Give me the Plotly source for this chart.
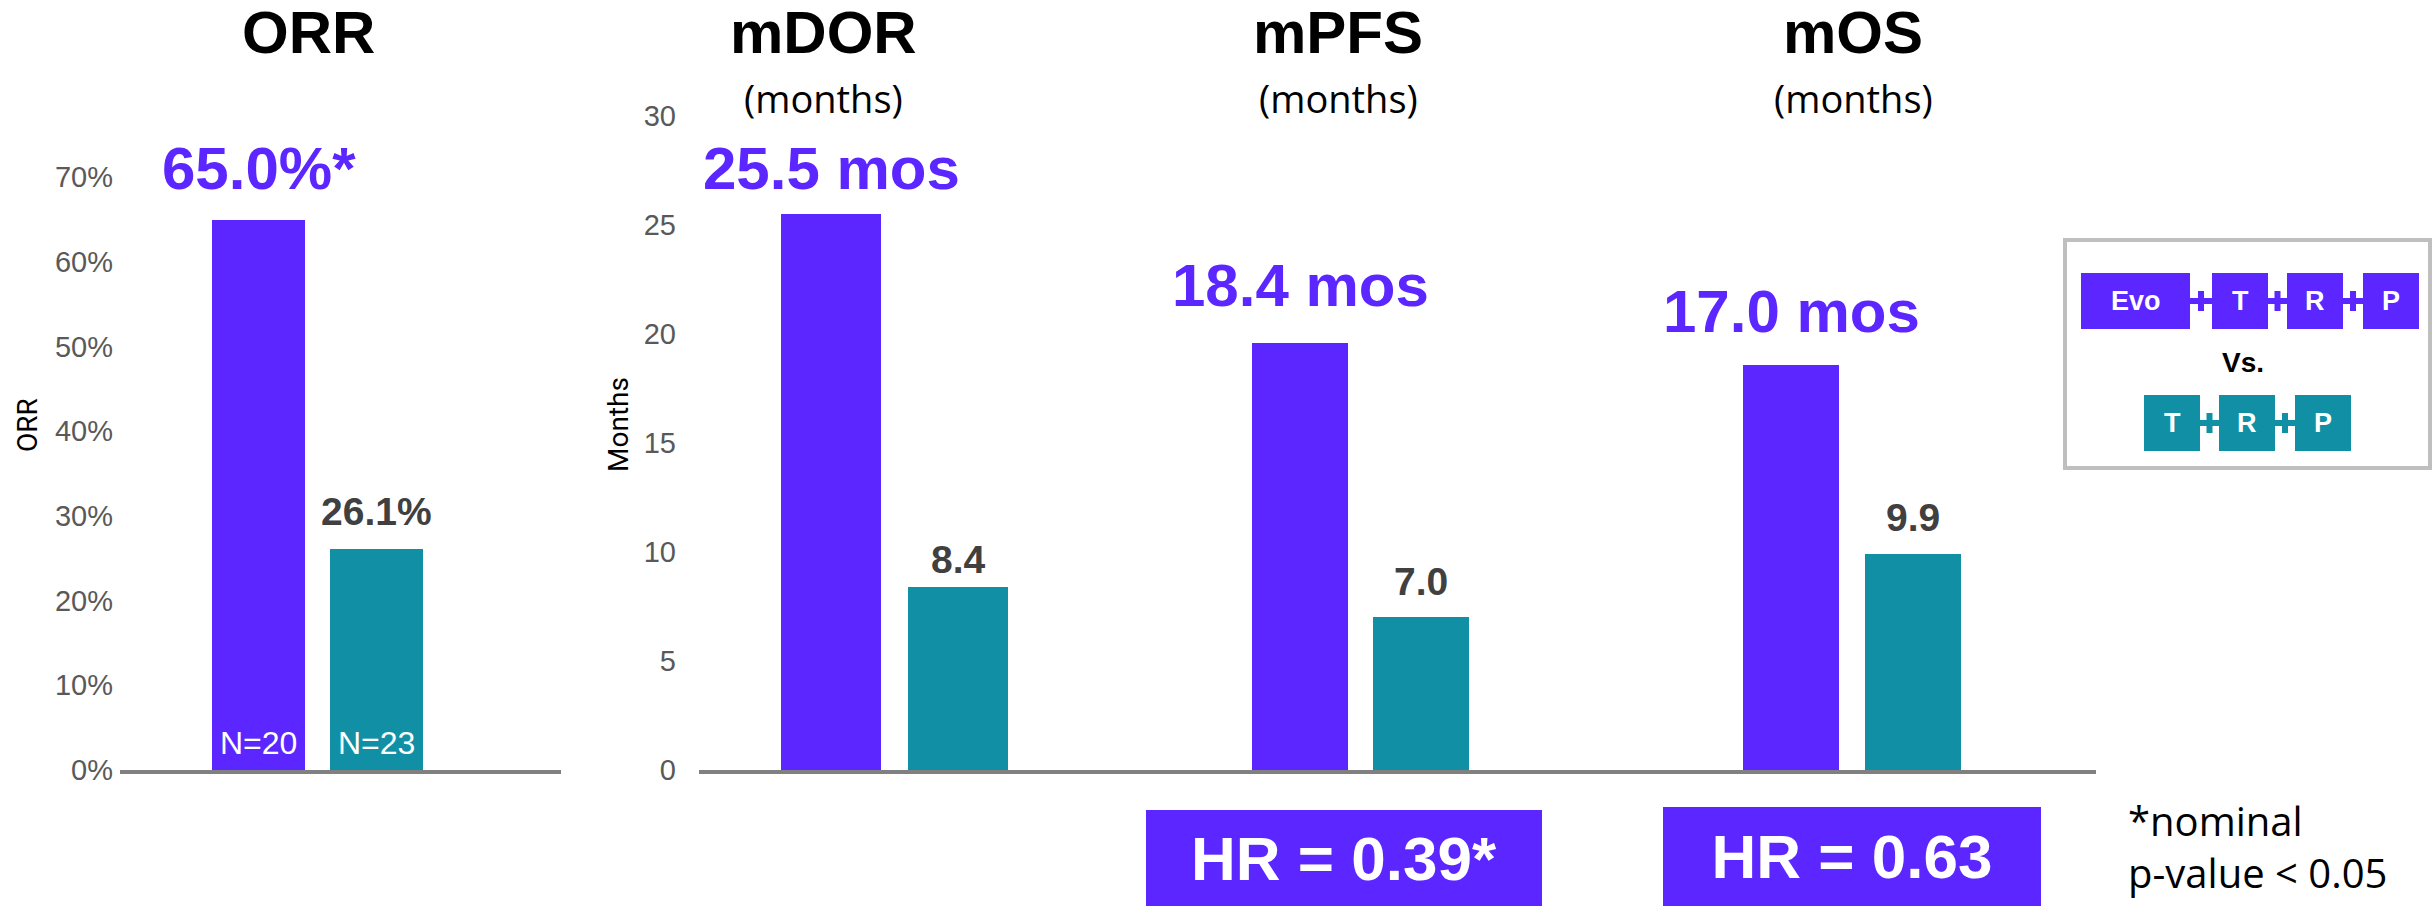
import plotly.graph_objects as go

# ---------------- data ----------------
arms = ["Evo+T+R+P", "T+R+P"]
orr_values = [65.0, 26.1]            # %
orr_labels = ["65.0%*", "26.1%"]
orr_n = ["N=20", "N=23"]

mdor_values = [25.5, 8.4]            # months (bar heights as drawn)
mdor_labels = ["25.5 mos", "8.4"]
mpfs_values = [19.6, 7.0]
mpfs_labels = ["18.4 mos", "7.0"]
mos_values = [18.6, 9.9]
mos_labels = ["17.0 mos", "9.9"]

panel_titles = ["ORR", "mDOR", "mPFS", "mOS"]
panel_subtitles = ["", "(months)", "(months)", "(months)"]
hr_labels = ["HR = 0.39*", "HR = 0.63"]
footnote = "*nominal<br>p-value < 0.05"
legend_top = ["Evo", "T", "R", "P"]
legend_bottom = ["T", "R", "P"]

# ---------------- style ----------------
W, H = 2432, 906
PURPLE = "#5B26FF"
TEAL = "#1190A5"
DARK = "#404040"
TICK = "#595959"
AXIS = "#808080"
FONT = "Liberation Sans, Arial, sans-serif"
FONT2 = "Open Sans, Liberation Sans, sans-serif"


def fx(p):
    return p / W


def fy(p):
    return 1 - p / H


BASE = 770
orr_px_per = (BASE - 177) / 70.0
orr_top = 75
mo_px_per = (BASE - 116) / 30.0
mo_top = 30

fig = go.Figure()

# panel geometry (pixels): axis domain, first bar centre, spacing
panels = [
    dict(ax="x", ay="y", dom=(120, 561), c0=258.5, step=118, bw=93),
    dict(ax="x2", ay="y2", dom=(699, 1100), c0=831, step=127, bw=100),
    dict(ax="x3", ay="y2", dom=(1100, 1590), c0=1300, step=121, bw=96),
    dict(ax="x4", ay="y2", dom=(1590, 2096), c0=1791, step=122, bw=96),
]
values = [orr_values, mdor_values, mpfs_values, mos_values]
labels = [orr_labels, mdor_labels, mpfs_labels, mos_labels]

for p, vals in zip(panels, values):
    fig.add_trace(go.Bar(
        x=arms, y=vals, xaxis=p["ax"], yaxis=p["ay"],
        marker=dict(color=[PURPLE, TEAL], line=dict(width=0)),
        width=p["bw"] / p["step"], showlegend=False, hoverinfo="skip",
    ))

layout = dict(
    width=W, height=H, margin=dict(l=0, r=0, t=0, b=0, autoexpand=False),
    paper_bgcolor="white", plot_bgcolor="white", showlegend=False,
    bargap=0,
)

for i, p in enumerate(panels):
    name = "xaxis" if i == 0 else f"xaxis{i + 1}"
    d0, d1 = p["dom"]
    r0 = -(p["c0"] - d0) / p["step"]
    r1 = 1 + (d1 - (p["c0"] + p["step"])) / p["step"]
    layout[name] = dict(
        domain=[fx(d0), fx(d1)], range=[r0, r1], type="category",
        anchor="y" if i == 0 else "y2", automargin=False,
        showline=True, linecolor=AXIS, linewidth=4,
        showticklabels=False, ticks="", showgrid=False, zeroline=False,
        fixedrange=True,
    )

layout["yaxis"] = dict(
    domain=[fy(BASE), fy(BASE - orr_top * orr_px_per)], range=[0, orr_top],
    anchor="x", tick0=0, dtick=10, ticksuffix="%", showgrid=False,
    zeroline=False, showline=False, ticks="", ticklabelstandoff=6,
    automargin=False,
    tickfont=dict(family=FONT, size=29, color=TICK),
)
layout["yaxis2"] = dict(
    domain=[fy(BASE), fy(BASE - mo_top * mo_px_per)], range=[0, mo_top],
    anchor="x2", tick0=0, dtick=5, showgrid=False,
    zeroline=False, showline=False, ticks="", ticklabelstandoff=22,
    automargin=False,
    tickfont=dict(family=FONT, size=29, color=TICK),
)

ann = []
# panel titles
title_cx = [308, 823, 1338, 1853]
for t, s, cx in zip(panel_titles, panel_subtitles, title_cx):
    ann.append(dict(xref="paper", yref="paper", x=fx(cx), y=fy(33),
                    text=t, showarrow=False, xanchor="center", yanchor="middle",
                    font=dict(family=FONT, size=60, color="black", weight="bold")))
    if s:
        ann.append(dict(xref="paper", yref="paper", x=fx(cx), y=fy(98),
                        text=s, showarrow=False, xanchor="center", yanchor="middle",
                        font=dict(family=FONT2, size=38, color="black")))

# y-axis titles
ann.append(dict(xref="paper", yref="paper", x=fx(27), y=fy(425), text="ORR",
                textangle=-90, showarrow=False, xanchor="center", yanchor="middle",
                font=dict(family="Roboto, sans-serif", size=28, color="black")))
ann.append(dict(xref="paper", yref="paper", x=fx(618), y=fy(425), text="Months",
                textangle=-90, showarrow=False, xanchor="center", yanchor="middle",
                font=dict(family="Roboto, sans-serif", size=28, color="black")))

# value labels above bars
big_shift = [51, 46, 57, 53]
small_shift = [37, 27, 36, 37]
for i, (p, vals, labs) in enumerate(zip(panels, values, labels)):
    xr = "x" if i == 0 else f"x{i + 1}"
    yr = "y" if i == 0 else "y2"
    ann.append(dict(xref=xr, yref=yr, x=arms[0], y=vals[0], text=labs[0],
                    showarrow=False, xanchor="center", yanchor="middle",
                    yshift=big_shift[i],
                    font=dict(family=FONT, size=60, color=PURPLE, weight="bold")))
    ann.append(dict(xref=xr, yref=yr, x=arms[1], y=vals[1], text=labs[1],
                    showarrow=False, xanchor="center", yanchor="middle",
                    yshift=small_shift[i],
                    font=dict(family=FONT, size=39, color=DARK, weight="bold")))

# N labels inside ORR bars
for a, n in zip(arms, orr_n):
    ann.append(dict(xref="x", yref="y", x=a, y=0, text=n, showarrow=False,
                    xanchor="center", yanchor="middle", yshift=27,
                    font=dict(family=FONT, size=32, color="white")))

# HR boxes
hr_boxes = [(1146, 1542, 810), (1663, 2041, 807)]
for lab, (x0, x1, top) in zip(hr_labels, hr_boxes):
    h = H - top
    ann.append(dict(xref="paper", yref="paper", x=fx((x0 + x1) / 2), y=fy(top + h / 2),
                    text=lab, showarrow=False, xanchor="center", yanchor="middle",
                    width=x1 - x0, height=h, bgcolor=PURPLE, borderpad=0,
                    borderwidth=0, align="center", valign="middle",
                    font=dict(family=FONT, size=62, color="white", weight="bold")))

# footnote
ann.append(dict(xref="paper", yref="paper", x=fx(2126), y=fy(846), text=footnote,
                showarrow=False, xanchor="left", yanchor="middle", align="left",
                font=dict(family=FONT2, size=40, color="black")))

# legend box
shapes = [dict(type="rect", xref="paper", yref="paper",
               x0=fx(2065), x1=fx(2430), y0=fy(468), y1=fy(240),
               line=dict(color="#BFBFBF", width=4), fillcolor="white", layer="below")]
top_boxes = [(2081, 2190), (2212, 2268), (2287, 2343), (2363, 2419)]
bot_boxes = [(2144, 2200), (2219, 2275), (2295, 2351)]


def legend_row(boxes, texts, color, y0, y1):
    for (a, b), t in zip(boxes, texts):
        shapes.append(dict(type="rect", xref="paper", yref="paper",
                           x0=fx(a), x1=fx(b), y0=fy(y1), y1=fy(y0),
                           fillcolor=color, line=dict(width=0)))
        ann.append(dict(xref="paper", yref="paper", x=fx((a + b) / 2), y=fy((y0 + y1) / 2),
                        text=t, showarrow=False, xanchor="center", yanchor="middle",
                        font=dict(family=FONT, size=27, color="white", weight="bold")))
    cy = (y0 + y1) / 2
    for (a1, b1), (a2, b2) in zip(boxes[:-1], boxes[1:]):
        gx0, gx1 = b1, a2
        cx = (gx0 + gx1) / 2
        shapes.append(dict(type="line", xref="paper", yref="paper",
                           x0=fx(gx0), x1=fx(gx1), y0=fy(cy), y1=fy(cy),
                           line=dict(color=color, width=6)))
        shapes.append(dict(type="line", xref="paper", yref="paper",
                           x0=fx(cx), x1=fx(cx), y0=fy(cy - 10), y1=fy(cy + 10),
                           line=dict(color=color, width=6)))


legend_row(top_boxes, legend_top, PURPLE, 273, 329)
legend_row(bot_boxes, legend_bottom, TEAL, 395, 451)
ann.append(dict(xref="paper", yref="paper", x=fx(2243), y=fy(362), text="Vs.",
                showarrow=False, xanchor="center", yanchor="middle",
                font=dict(family=FONT, size=28, color="black", weight="bold")))

layout["annotations"] = ann
layout["shapes"] = shapes
fig.update_layout(**layout)

fig.write_html("out.html", config={"displayModeBar": False},
               post_script="document.body.style.margin='0';")
